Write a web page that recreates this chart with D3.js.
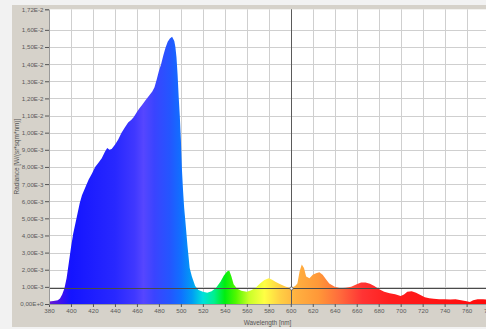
<!DOCTYPE html>
<html>
<head>
<meta charset="utf-8">
<script src="https://cdn.jsdelivr.net/npm/d3@7/dist/d3.min.js"></script>
<style>
  body { margin: 0; background: #f2f2f2; }
  svg { display: block; }
  text { font-family: "Liberation Sans", Arial, sans-serif; }
</style>
</head>
<body>
<svg id="chart" width="486" height="329"></svg>
<script>
// Measured spectrum: wavelength in nm, spectral radiance in W/(sr*sqm*nm)
const wavelengths = [
  380, 384, 388, 390, 392, 394, 396, 398, 400, 402, 404, 406, 408, 410, 413, 416, 419,
  422, 425, 428, 431, 433, 435, 437, 440, 443, 446, 449, 452, 455, 457, 460, 462, 465,
  468, 471, 474, 476, 478, 480, 482, 484, 486, 488, 490, 492, 494, 495, 496, 497, 498,
  499, 500, 501, 502, 503, 504, 506, 508, 510, 513, 516, 520, 524, 528, 532, 536, 539,
  542, 544, 546, 548, 551, 555, 560, 564, 568, 572, 576, 580, 583, 586, 590, 595, 600,
  604, 606, 608, 610, 612, 614, 617, 620, 623, 626, 629, 632, 635, 640, 645, 650, 655,
  660, 664, 668, 672, 676, 680, 685, 690, 695, 700, 703, 706, 710, 714, 718, 722, 726,
  730, 735, 740, 745, 750, 755, 760, 763, 766, 770, 775, 780
];
const radiance = [
  0.00015, 0.00017, 0.00022, 0.00032, 0.00055, 0.0009, 0.0015, 0.0024, 0.0033, 0.0041,
  0.0047, 0.0053, 0.0059, 0.00635, 0.0068, 0.00725, 0.0076, 0.0080, 0.00825, 0.0085,
  0.0089, 0.0091, 0.0090, 0.00905, 0.0093, 0.0096, 0.0100, 0.0103, 0.0106, 0.01075,
  0.0109, 0.0112, 0.0114, 0.01165, 0.0119, 0.01215, 0.0124, 0.01265, 0.0131, 0.0136,
  0.0140, 0.0145, 0.01495, 0.0153, 0.0155, 0.0156, 0.01535, 0.0150, 0.0144, 0.0134,
  0.0121, 0.0110, 0.0096, 0.0078, 0.0066, 0.0056, 0.0049, 0.0034, 0.0021, 0.0016,
  0.00105, 0.00082, 0.00072, 0.00066, 0.00074, 0.00095, 0.0013, 0.00165, 0.0019, 0.00195,
  0.0016, 0.00115, 0.0009, 0.00078, 0.00072, 0.0008, 0.00095, 0.0012, 0.0014, 0.0015,
  0.00142, 0.0013, 0.00117, 0.00102, 0.00092, 0.00105, 0.0012, 0.0019, 0.0023, 0.0021,
  0.0016, 0.0015, 0.0017, 0.0018, 0.00185, 0.0017, 0.00145, 0.0012, 0.0010, 0.00092,
  0.00095, 0.0010, 0.00115, 0.00125, 0.00125, 0.00118, 0.00105, 0.00088, 0.00072, 0.00063,
  0.00057, 0.00047, 0.00055, 0.00072, 0.00074, 0.00065, 0.00052, 0.0004, 0.00033, 0.0003,
  0.00027, 0.00028, 0.00026, 0.00028, 0.00022, 0.00016, 0.00012, 0.00022, 0.00027, 0.00027,
  0.00026
];

const xTicks = [380, 400, 420, 440, 460, 480, 500, 520, 540, 560, 580, 600, 620, 640,
  660, 680, 700, 720, 740, 760, 780];
const yTicks = [0, 0.001, 0.002, 0.003, 0.004, 0.005, 0.006, 0.007, 0.008, 0.009, 0.010,
  0.011, 0.012, 0.013, 0.014, 0.015, 0.016, 0.0172];
const yTickLabels = ["0,00E+0", "1,00E-3", "2,00E-3", "3,00E-3", "4,00E-3", "5,00E-3",
  "6,00E-3", "7,00E-3", "8,00E-3", "9,00E-3", "1,00E-2", "1,10E-2", "1,20E-2", "1,30E-2",
  "1,40E-2", "1,50E-2", "1,60E-2", "1,72E-2"];
const gridY = [0.001, 0.002, 0.003, 0.004, 0.005, 0.006, 0.007, 0.008, 0.009, 0.010,
  0.011, 0.012, 0.013, 0.014, 0.015, 0.016];

// Visible-light colour ramp used to fill the spectrum
const rampWavelengths = [380, 392, 400, 440, 458, 466, 476, 490, 500, 510, 520, 530, 540,
  550, 562, 576, 590, 605, 625, 645, 665, 690, 780];
const rampColors = ["#6a1ad0", "#3a10f0", "#1414ff", "#2828ff", "#4038ff", "#5646ff",
  "#3a44ff", "#2456ff", "#1070ff", "#009cf4", "#00e0dc", "#00f090", "#00ee10", "#50f800",
  "#c8ff28", "#ffff44", "#ffd044", "#ffb040", "#ff9838", "#ff6a3c", "#ff3434", "#ff1e1e",
  "#ff0a0a"];

const cursorWavelength = 600;

const W = 486, H = 329;
const svg = d3.select("#chart");

const x = d3.scaleLinear().domain([380, 780]).range([49, 488.6]);
const y = d3.scaleLinear().domain([0, 0.0172]).range([304, 9.3]);

// Window panel
svg.append("rect").attr("x", 12).attr("y", 5).attr("width", W - 12).attr("height", 322)
  .attr("fill", "#d6d2ca");

// Plot background
svg.append("rect")
  .attr("x", x(380)).attr("y", y(0.0172))
  .attr("width", x(780) - x(380)).attr("height", y(0) - y(0.0172))
  .attr("fill", "#ffffff");

// Grid
const grid = svg.append("g").attr("stroke", "#cfcfcf").attr("stroke-width", 1);
grid.selectAll("line.v").data(xTicks.slice(1)).join("line")
  .attr("x1", d => Math.round(x(d)) + 0.5).attr("x2", d => Math.round(x(d)) + 0.5)
  .attr("y1", y(0.0172)).attr("y2", y(0));
grid.selectAll("line.h").data(gridY).join("line")
  .attr("y1", d => Math.round(y(d)) + 0.5).attr("y2", d => Math.round(y(d)) + 0.5)
  .attr("x1", x(380)).attr("x2", x(780));

// Spectrum gradient
const defs = svg.append("defs");
const grad = defs.append("linearGradient").attr("id", "spectrum")
  .attr("gradientUnits", "userSpaceOnUse")
  .attr("x1", x(380)).attr("x2", x(780)).attr("y1", 0).attr("y2", 0);
grad.selectAll("stop").data(rampWavelengths).join("stop")
  .attr("offset", d => (d - 380) / 400)
  .attr("stop-color", (d, i) => rampColors[i]);

const data = wavelengths.map((w, i) => ({ w, v: radiance[i] }));

svg.append("path").datum(data)
  .attr("fill", "url(#spectrum)")
  .attr("d", d3.area().x(d => x(d.w)).y0(y(0)).y1(d => y(d.v)));

// Cursor lines through the reading at the cursor wavelength
const cursorValue = radiance[wavelengths.indexOf(cursorWavelength)];
svg.append("line")
  .attr("x1", x(380)).attr("x2", x(780))
  .attr("y1", Math.round(y(cursorValue)) + 0.5).attr("y2", Math.round(y(cursorValue)) + 0.5)
  .attr("stroke", "#4a4a4a").attr("stroke-width", 1);
svg.append("line")
  .attr("x1", Math.round(x(cursorWavelength)) + 0.5).attr("x2", Math.round(x(cursorWavelength)) + 0.5)
  .attr("y1", y(0.0172)).attr("y2", y(0))
  .attr("stroke", "#5a5a5a").attr("stroke-width", 1);
svg.append("circle")
  .attr("cx", Math.round(x(cursorWavelength)) + 0.5).attr("cy", Math.round(y(cursorValue)) + 0.5)
  .attr("r", 1.6).attr("fill", "#ffffff").attr("stroke", "#555").attr("stroke-width", 0.8);

// Axes
const xAxis = d3.axisBottom(x).tickValues(xTicks).tickSize(3).tickPadding(2)
  .tickFormat(d => String(d));
const gx = svg.append("g").attr("transform", `translate(0,${y(0)})`).call(xAxis);
gx.select(".domain").attr("stroke", "#9a9a9a");
gx.selectAll(".tick line").attr("stroke", "#555");
gx.selectAll(".tick text").attr("fill", "#5a5a5a").attr("font-size", 6.2);

const yAxis = d3.axisLeft(y).tickValues(yTicks).tickSize(4).tickPadding(1.5)
  .tickFormat((d, i) => yTickLabels[i]);
const gy = svg.append("g").attr("transform", `translate(${x(380)},0)`).call(yAxis);
gy.select(".domain").attr("stroke", "#9a9a9a");
gy.selectAll(".tick line").attr("stroke", "#555");
gy.selectAll(".tick text").attr("fill", "#5a5a5a").attr("font-size", 6.2);
gy.selectAll("text").attr("font-family", "'Liberation Sans', Arial, sans-serif");
gx.selectAll("text").attr("font-family", "'Liberation Sans', Arial, sans-serif");

// Axis titles
svg.append("text")
  .attr("x", (x(380) + W) / 2).attr("y", 324.5)
  .attr("text-anchor", "middle").attr("font-size", 6.4).attr("fill", "#555")
  .text("Wavelength [nm]");
svg.append("text")
  .attr("transform", `translate(18.5,${(y(0) + y(0.0172)) / 2}) rotate(-90)`)
  .attr("text-anchor", "middle").attr("font-size", 6.4).attr("fill", "#555")
  .text("Radiance [W/(sr*sqm*nm)]");
</script>
</body>
</html>
